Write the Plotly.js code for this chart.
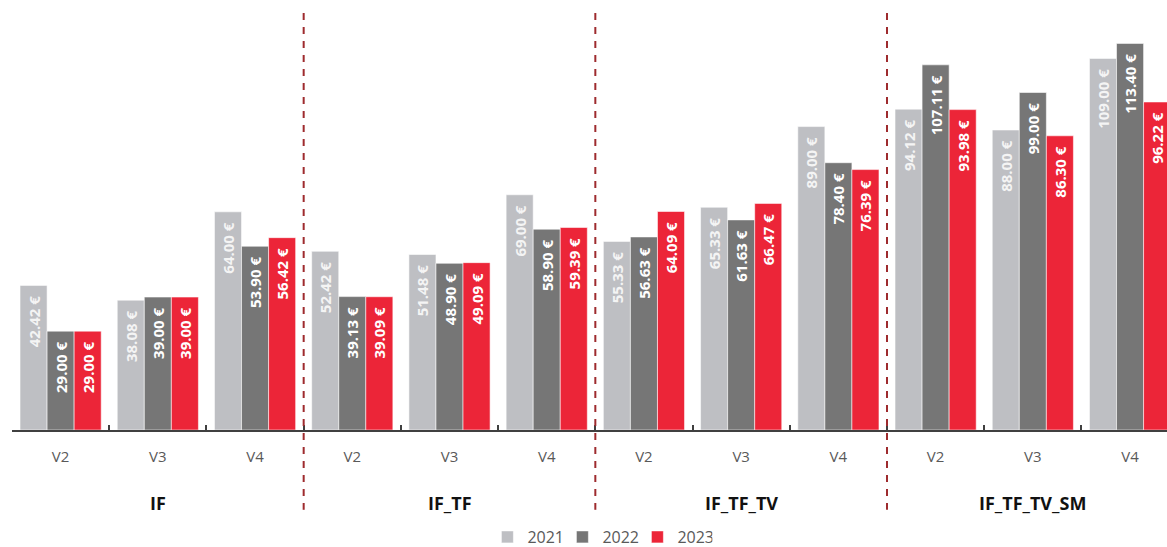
<!DOCTYPE html>
<html>
<head>
<meta charset="utf-8">
<script src="https://cdn.plot.ly/plotly-3.0.1.min.js"></script>
<style>html,body{margin:0;padding:0;background:#fff;}#chart{width:1167px;height:547px;}</style>
</head>
<body>
<div id="chart"></div>
<script>
const groups = ["IF", "IF_TF", "IF_TF_TV", "IF_TF_TV_SM"];
const versions = ["V2", "V3", "V4"];
const years = ["2021", "2022", "2023"];
const values2021 = [42.42, 38.08, 64.00, 52.42, 51.48, 69.00, 55.33, 65.33, 89.00, 94.12, 88.00, 109.00];
const values2022 = [29.00, 39.00, 53.90, 39.13, 48.90, 58.90, 56.63, 61.63, 78.40, 107.11, 99.00, 113.40];
const values2023 = [29.00, 39.00, 56.42, 39.09, 49.09, 59.39, 64.09, 66.47, 76.39, 93.98, 86.30, 96.22];

const cats = [];
const tickText = [];
groups.forEach(g => versions.forEach(v => { cats.push(g + "|" + v); tickText.push(v); }));

const colors = ["#BEBFC3", "#767676", "#EC2538"];
const textColors = ["#F4F4F4", "#FFFFFF", "#FFFFFF"];
const series = [values2021, values2022, values2023];

const traces = series.map((vals, i) => ({
  type: "bar",
  name: years[i],
  x: cats,
  y: vals,
  marker: {color: colors[i], line: {color: "rgba(255,255,255,0.55)", width: 1}},
  texttemplate: "%{y:.2f} €\u00a0\u00a0",
  textposition: "inside",
  insidetextanchor: "end",
  textangle: -90,
  constraintext: "none",
  textfont: {family: "Open Sans", size: 15, color: textColors[i], weight: "bold"},
  hoverinfo: "skip"
}));

const shapes = [2.5, 5.5, 8.5].map(xv => ({
  type: "line", xref: "x", yref: "paper",
  x0: xv, x1: xv, y0: 0.993, y1: -0.19,
  line: {color: "#9E2B2E", width: 2, dash: "7px,7px"}
}));

const annotations = groups.map((g, i) => ({
  text: "<b>" + g + "</b>", xref: "x", yref: "paper",
  x: i * 3 + 1, y: -0.174, yanchor: "middle", xanchor: "center",
  showarrow: false, font: {family: "Open Sans", size: 18, color: "#111111"}
}));

const layout = {
  width: 1167, height: 547,
  margin: {l: 12, r: 0, t: 10, b: 117, autoexpand: false},
  paper_bgcolor: "#fff", plot_bgcolor: "#fff",
  barmode: "group", bargap: 0.165, bargroupgap: 0,
  showlegend: true,
  legend: {orientation: "h", x: 0.509, xanchor: "center", y: -0.2548, yanchor: "middle",
           font: {family: "Open Sans", size: 16, color: "#595959"}, itemwidth: 30,
           entrywidth: 30, entrywidthmode: "pixels", tracegroupgap: 0},
  xaxis: {type: "category", range: [-0.5, 11.38], tickmode: "array", tickvals: cats, ticktext: tickText,
          tickson: "boundaries", ticks: "inside", ticklen: 5, tickwidth: 2, tickcolor: "#404040",
          showline: true, linecolor: "#404040", linewidth: 2, showgrid: false, zeroline: false,
          tickfont: {family: "Open Sans", size: 15, color: "#595959"}, ticklabelstandoff: 12, fixedrange: true},
  yaxis: {range: [0, 123.2], visible: false, showgrid: false, zeroline: false, fixedrange: true},
  shapes: shapes,
  annotations: annotations
};

Plotly.newPlot("chart", traces, layout, {displayModeBar: false, staticPlot: true});
</script>
</body>
</html>
